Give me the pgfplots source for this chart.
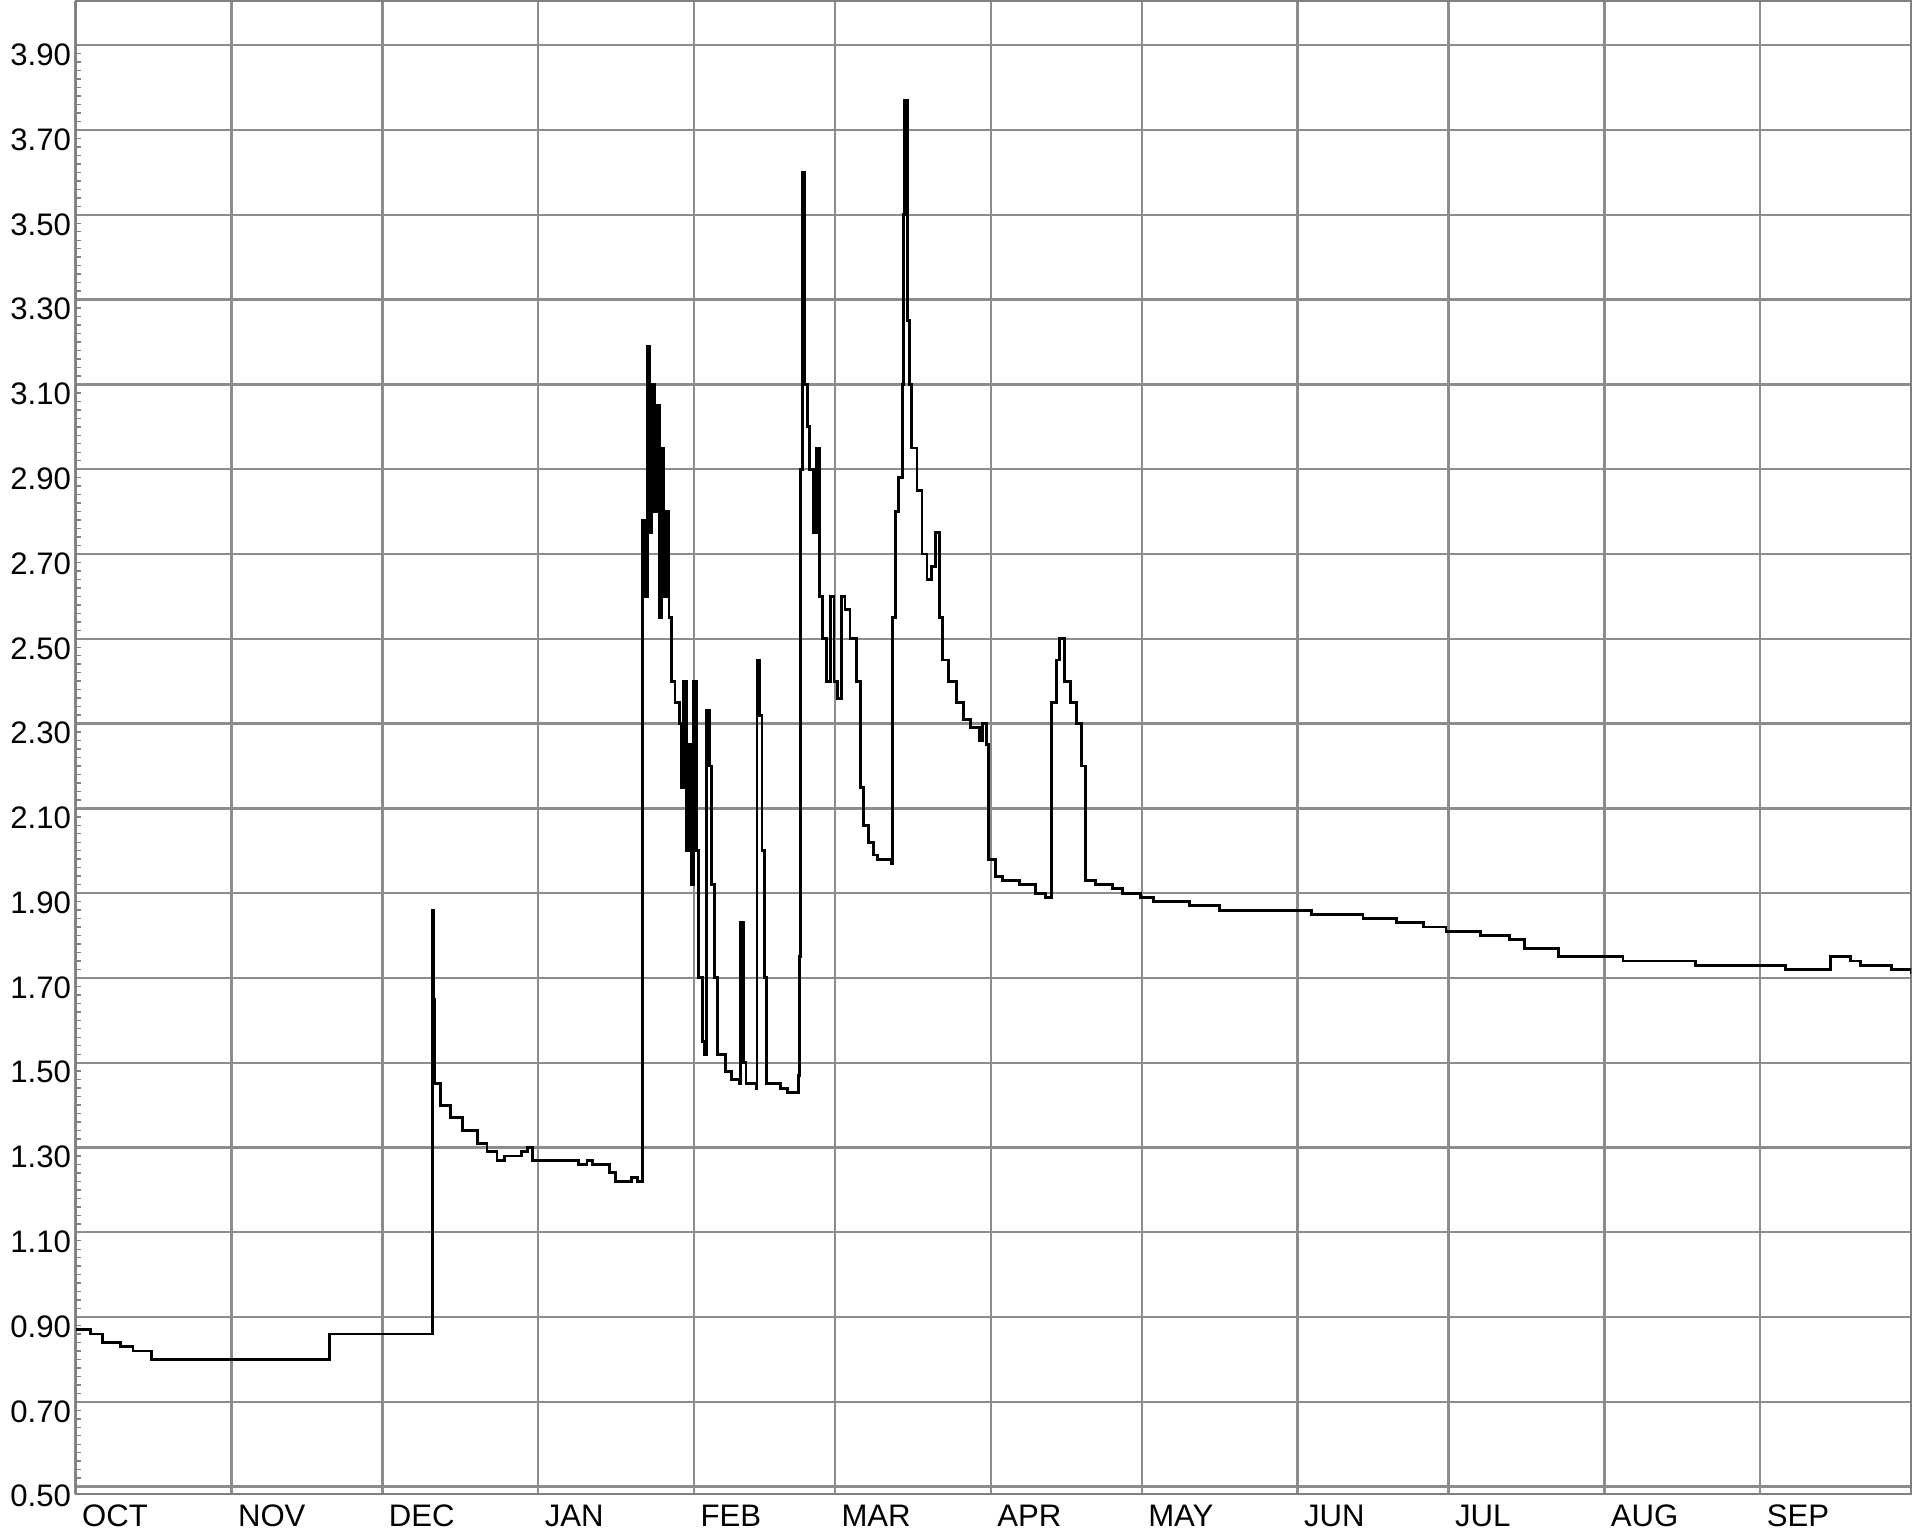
\documentclass[border=0pt]{standalone}
\usepackage{pgfplots}
\pgfplotsset{compat=1.18}
\usepackage{fontspec}
\setmainfont{Liberation Sans}
\begin{document}
\begin{tikzpicture}
\fontsize{6.5}{7.5}\selectfont
\begin{axis}[
 scale only axis, width=383.4pt, height=311.8pt,
 xmin=0, xmax=365, ymin=0.483, ymax=4.004,
 xtick={0,31,61,92,123,151,182,212,243,273,304,335,365},
 xticklabels={OCT,NOV,DEC,JAN,FEB,MAR,APR,MAY,JUN,JUL,AUG,SEP,},
 xticklabel style={anchor=north west, xshift=-1pt, font=\fontsize{6.5}{7.5}\selectfont},
 ytick={0.5,0.7,...,3.95},
 yticklabel style={/pgf/number format/fixed,/pgf/number format/fixed zerofill,/pgf/number format/precision=2, font=\fontsize{6.5}{7.5}\selectfont, anchor=west, xshift=-16pt, yshift=-2pt},
 /pgf/number format/assume math mode=true,
 minor y tick num=9,
 grid=major, major grid style={gray!90, line width=0.5pt},
 axis line style={gray}, tick style={gray, line width=0.3pt}, major tick length=0pt, minor tick length=1.2pt,
 tick pos=left,
]
\addplot[const plot, black, line width=0.6pt] coordinates {
(0,0.87)(2.9,0.86)(5.3,0.84)(9,0.83)(11.4,0.82)(15,0.80)(50.5,0.86)(70.9,1.86)(71.2,1.65)(71.4,1.45)
(72.6,1.40)(74.6,1.37)(77,1.34)(80,1.31)(81.8,1.29)(83.8,1.27)(85.2,1.28)(88.6,1.29)(89.9,1.30)(90.8,1.27)
(96.4,1.27)(100,1.26)(101.7,1.27)(102.7,1.26)(106.1,1.24)(107.3,1.22)(110.5,1.23)(111.7,1.22)
(112.7,2.78)(113.2,2.60)(113.7,3.19)(114.2,2.75)(114.6,3.10)(115.1,2.80)(115.6,3.05)(116.1,2.55)(116.6,2.95)
(117,2.60)(117.5,2.80)(118,2.55)(118.5,2.40)(119.2,2.35)(120,2.30)(120.4,2.15)(120.9,2.40)(121.4,2.00)
(121.9,2.25)(122.4,1.92)(122.9,2.40)(123.4,2.00)(123.8,1.70)(124.6,1.55)(125.1,1.52)(125.5,2.33)(126,2.20)
(126.5,1.92)(127,1.70)(127.7,1.52)(129.2,1.48)(130.4,1.46)(132.1,1.45)(132.3,1.83)(132.8,1.50)(133.3,1.45)
(135.3,1.44)(135.5,2.45)(136,2.32)(136.5,2.00)(137,1.70)(137.4,1.45)(140.1,1.44)(141.6,1.43)(143.8,1.47)
(144,1.75)(144.2,2.90)(144.5,3.60)(145,3.10)(145.5,3.00)(145.9,2.90)(146.7,2.75)(147.4,2.95)(147.9,2.60)
(148.6,2.50)(149.3,2.40)(150.1,2.60)(150.8,2.40)(151.5,2.36)(152.3,2.60)(153,2.57)(154,2.50)(155.2,2.40)
(156.1,2.15)(156.6,2.06)(157.6,2.02)(158.6,1.99)(159.5,1.98)(162.2,1.97)(162.5,2.55)(163,2.80)(163.7,2.88)
(164.4,3.10)(164.6,3.50)(164.9,3.77)(165.4,3.25)(165.9,3.10)(166.3,2.95)(167.3,2.85)(168.3,2.70)(169.3,2.64)
(170.2,2.67)(171,2.75)(171.7,2.55)(172.4,2.45)(173.6,2.40)(175.1,2.35)(176.5,2.31)(178,2.29)(179.7,2.26)
(180.4,2.30)(181.2,2.25)(181.6,1.98)(182.9,1.94)(184.3,1.93)(187.7,1.92)(190.9,1.90)(192.8,1.89)(194,2.35)
(195,2.45)(195.7,2.50)(196.7,2.40)(197.9,2.35)(199.1,2.30)(200.1,2.20)(200.8,1.93)(202.8,1.92)(206.2,1.91)
(208.1,1.90)(211.8,1.89)(214.4,1.88)(221.5,1.87)(227.5,1.86)(245.8,1.85)(256,1.84)(262.7,1.83)(268.1,1.82)
(272.5,1.81)(279.3,1.80)(285.1,1.79)(288.2,1.77)(294.8,1.75)(307.7,1.74)(322.2,1.73)(340,1.72)(349,1.75)
(353,1.74)(354.9,1.73)(361.1,1.72)(365,1.71)
};
\end{axis}
\end{tikzpicture}
\end{document}
